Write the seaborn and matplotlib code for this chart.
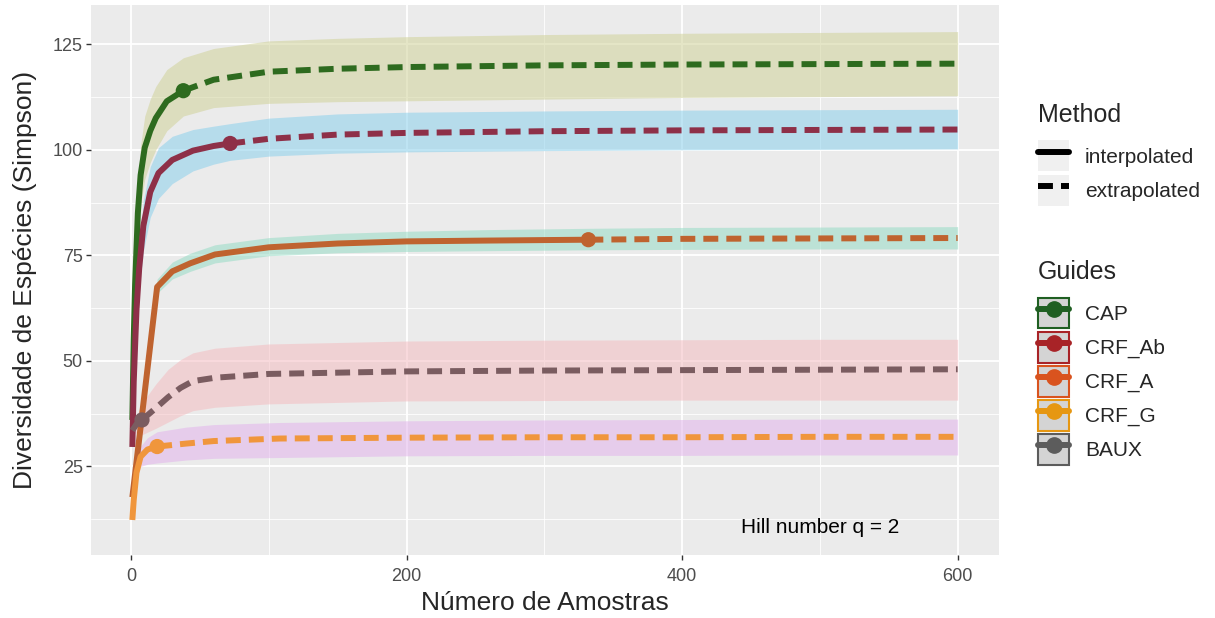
import numpy as np
import pandas as pd
import matplotlib
matplotlib.use("Agg")
import matplotlib.pyplot as plt
from matplotlib.lines import Line2D
from matplotlib.patches import Patch
import seaborn as sns

# ---------------- data ----------------
guides = ["CAP", "CRF_Ab", "CRF_A", "CRF_G", "BAUX"]

cap_int_x = [1, 2, 3, 5, 7, 10, 14, 18, 26, 38]
cap_int_y = [36, 55, 68, 85, 94, 100.5, 104.5, 107.5, 111.5, 114]
cap_ext_x = [38, 60, 100, 150, 200, 300, 400, 500, 600]
cap_ext_y = [114, 116.6, 118.5, 119.2, 119.6, 120.0, 120.2, 120.3, 120.4]
cap_rib_lo = [35.5, 53, 64, 79, 87, 93, 97, 100, 104.5, 108, 110, 111, 111.4, 111.6, 112.0, 112.4, 112.6, 112.8]
cap_rib_hi = [36.5, 57, 72, 91, 101, 108, 112, 115, 119, 121.8, 124, 125.8, 126.4, 126.8, 127.3, 127.6, 127.8, 128]

ab_int_x = [1, 2, 4, 6, 9, 14, 20, 30, 45, 60, 72]
ab_int_y = [29.6, 45, 62, 72, 82, 90, 94.5, 97.6, 99.8, 100.9, 101.5]
ab_ext_x = [72, 100, 150, 200, 300, 400, 500, 600]
ab_ext_y = [101.5, 102.6, 103.6, 104.0, 104.4, 104.6, 104.7, 104.8]
ab_rib_lo = [29.2, 43, 58, 67, 76, 84, 88.5, 92, 95, 96.6, 97.5, 98.5, 99.2, 99.5, 99.8, 100, 100.1, 100.2]
ab_rib_hi = [30, 47, 66, 77, 88, 96, 100.5, 103.2, 104.8, 105.6, 106.2, 107.5, 108.5, 108.9, 109.2, 109.4, 109.5, 109.6]

a_int_x = [1, 19, 30, 43, 61, 100, 150, 200, 260, 332]
a_int_y = [17.7, 67.5, 71.2, 73.1, 75.2, 76.9, 77.8, 78.3, 78.5, 78.7]
a_ext_x = [332, 400, 500, 600]
a_ext_y = [78.7, 78.9, 79.0, 79.1]
a_rib_lo = [17, 66, 69.4, 71.2, 73.2, 74.9, 75.6, 75.9, 76.1, 76.3, 76.4, 76.5, 76.5]
a_rib_hi = [18.5, 69.4, 73.4, 75.5, 77.5, 79.2, 80.2, 80.7, 81.1, 81.4, 81.6, 81.7, 81.8]

g_int_x = [1, 2, 4, 7, 12, 19]
g_int_y = [12.3, 17, 23.5, 27.3, 29.0, 29.7]
g_ext_x = [19, 40, 60, 108, 200, 300, 400, 500, 600]
g_ext_y = [29.7, 30.4, 31.0, 31.6, 31.8, 31.9, 31.9, 32.0, 32.0]
g_rib_lo = [12, 16.2, 22, 25, 25.5, 25.8, 26.5, 26.9, 27.1, 27.5, 27.6, 27.6, 27.7, 27.7]
g_rib_hi = [12.6, 18, 25.5, 29.8, 31.8, 33.2, 34.3, 34.9, 35.4, 35.8, 36.0, 36.1, 36.2, 36.2]

b_int_x = [1, 4, 8]
b_int_y = [33.5, 35, 36]
b_ext_x = [8, 18, 27, 36, 45, 61, 100, 200, 300, 400, 500, 600]
b_ext_y = [36, 38.8, 41.4, 43.6, 45.2, 46.0, 46.9, 47.5, 47.7, 47.8, 47.9, 48.0]
b_rib_lo = [32.5, 33, 32.5, 34, 35.5, 37, 38.2, 39, 39.8, 40.5, 40.6, 40.7, 40.7, 40.7]
b_rib_hi = [34.5, 37, 40, 44.5, 48, 50.3, 51.9, 53, 54, 54.7, 54.9, 55, 55.1, 55.1]

series = {
    "CAP": (cap_int_x, cap_int_y, cap_ext_x, cap_ext_y, cap_rib_lo, cap_rib_hi),
    "CRF_Ab": (ab_int_x, ab_int_y, ab_ext_x, ab_ext_y, ab_rib_lo, ab_rib_hi),
    "CRF_A": (a_int_x, a_int_y, a_ext_x, a_ext_y, a_rib_lo, a_rib_hi),
    "CRF_G": (g_int_x, g_int_y, g_ext_x, g_ext_y, g_rib_lo, g_rib_hi),
    "BAUX": (b_int_x, b_int_y, b_ext_x, b_ext_y, b_rib_lo, b_rib_hi),
}

line_colors = {"CAP": "#2E6B1F", "CRF_Ab": "#8E3048", "CRF_A": "#BF632F",
               "CRF_G": "#F0963C", "BAUX": "#7A5C60"}
ribbon_colors = {"CAP": "#D0D299", "CRF_Ab": "#8BD0EB", "CRF_A": "#97DCC5",
                 "CRF_G": "#E2B4EB", "BAUX": "#F4BDC1"}
legend_colors = {"CAP": "#1F5F22", "CRF_Ab": "#A82327", "CRF_A": "#D9531E",
                 "CRF_G": "#E69712", "BAUX": "#5C5C5C"}

# long table
rows = []
for g, (ix, iy, ex, ey, lo, hi) in series.items():
    for x, y in zip(ix, iy):
        rows.append((g, "interpolated", x, y))
    for x, y in zip(ex, ey):
        rows.append((g, "extrapolated", x, y))
df = pd.DataFrame(rows, columns=["guide", "method", "x", "y"])

# ---------------- plot ----------------
sns.set_theme(style="darkgrid")
plt.rcParams["font.family"] = ["Liberation Sans", "DejaVu Sans"]

fig = plt.figure(figsize=(12.15, 6.18), dpi=100)
ax = fig.add_axes([0.0749, 0.1019, 0.7473, 0.890])
ax.set_facecolor("#EBEBEB")

for g, (ix, iy, ex, ey, lo, hi) in series.items():
    xs = list(ix) + list(ex[1:])
    ax.fill_between(xs, lo, hi, color=ribbon_colors[g], alpha=0.55, lw=0, zorder=1)

lw = 4.3
dash = (2.5, 1.35)
sns.lineplot(data=df, x="x", y="y", hue="guide", style="method",
             palette=line_colors, hue_order=guides,
             dashes={"interpolated": "", "extrapolated": dash},
             estimator=None, sort=True, lw=lw, ax=ax, legend=False, zorder=3)
for ln in ax.get_lines():
    ln.set_dash_capstyle("butt")
    ln.set_solid_capstyle("butt")

pts = df[df.method == "extrapolated"].groupby("guide", sort=False).first().reset_index()
sns.scatterplot(data=pts, x="x", y="y", hue="guide", palette=line_colors,
                hue_order=guides, s=120, linewidth=0, ax=ax, legend=False, zorder=4)

ax.text(500, 10.5, "Hill number q = 2", ha="center", va="center", fontsize=15,
        color="black")

ax.set_xlim(-29, 630)
ax.set_ylim(4.0, 134.3)
ax.set_xticks([0, 200, 400, 600])
ax.set_xticks([100, 300, 500], minor=True)
ax.set_yticks([25, 50, 75, 100, 125])
ax.set_yticks([12.5, 37.5, 62.5, 87.5, 112.5], minor=True)
ax.grid(which="major", color="white", lw=1.3)
ax.grid(which="minor", color="white", lw=0.6)
ax.tick_params(which="major", direction="out", length=3.5, width=1.0,
               color="#333333", labelsize=13, labelcolor="#4D4D4D",
               bottom=True, left=True)
ax.tick_params(axis="x", which="major", pad=6)
ax.tick_params(axis="y", which="major", pad=2.5)
ax.tick_params(which="minor", length=0)
for s in ax.spines.values():
    s.set_visible(False)
ax.set_xlabel("Número de Amostras", fontsize=19, labelpad=4)
ax.set_ylabel("Diversidade de Espécies (Simpson)", fontsize=19, labelpad=11)

# legends
fs = 15
common = dict(loc="upper left", frameon=False, fontsize=fs,
              handlelength=1.49, handleheight=1.91, labelspacing=0.15,
              handletextpad=0.77, borderaxespad=0, borderpad=0)
m_handles = [
    (Patch(facecolor="#F0F0F0", edgecolor="none"), Line2D([], [], color="black", lw=lw)),
    (Patch(facecolor="#F0F0F0", edgecolor="none"),
     Line2D([], [], color="black", lw=lw, dashes=dash, dash_capstyle="butt")),
]
fig.text(1038 / 1215, 1 - 115 / 618, "Method", fontsize=18, ha="left", va="center")
leg1 = fig.legend(m_handles, ["interpolated", "extrapolated"],
                  bbox_to_anchor=(1038 / 1215, 1 - 140.5 / 618), **common)
g_handles = [
    (Patch(facecolor="#D4D4D4", edgecolor=legend_colors[g], lw=1.5),
     Line2D([], [], color=legend_colors[g], lw=lw, marker="o", ms=11))
    for g in guides
]
fig.text(1038 / 1215, 1 - 272 / 618, "Guides", fontsize=18, ha="left", va="center")
leg2 = fig.legend(g_handles, guides,
                  bbox_to_anchor=(1038 / 1215, 1 - 297.5 / 618), **common)

fig.savefig("out.png", dpi=100)
